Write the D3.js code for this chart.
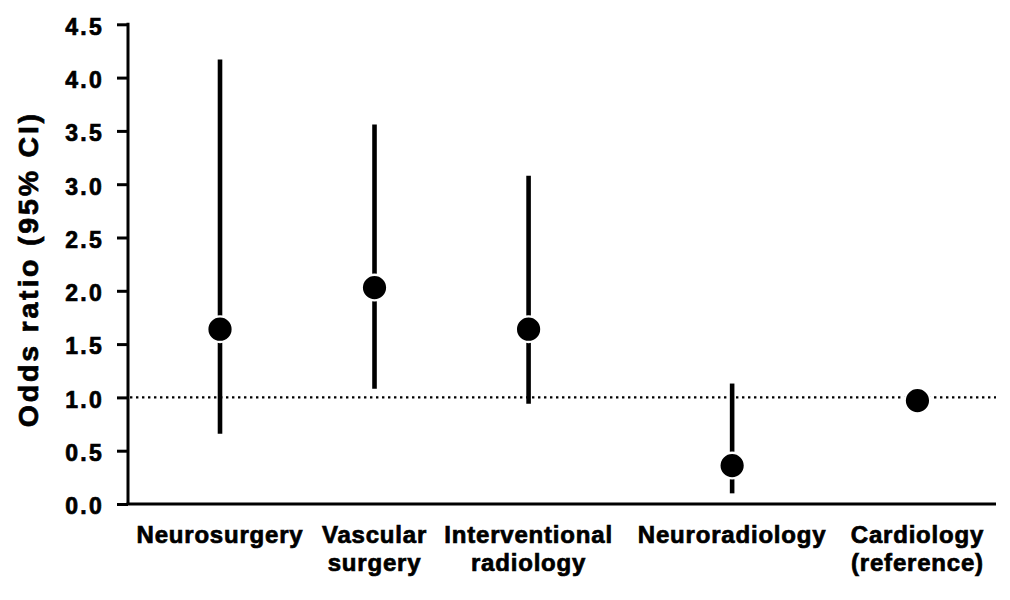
<!DOCTYPE html>
<html>
<head>
<meta charset="utf-8">
<script src="https://cdn.jsdelivr.net/npm/d3@7"></script>
<style>
  html, body { margin: 0; padding: 0; background: #fff; }
  svg { display: block; }
  text { font-family: "Liberation Sans", Arial, sans-serif; font-weight: bold; fill: #000; stroke: #000; stroke-width: 0.7px; }
</style>
</head>
<body>
<svg id="chart" width="1010" height="600"></svg>
<script>
// ---- data ----
const categories = ["Neurosurgery", "Vascular surgery", "Interventional radiology", "Neuroradiology", "Cardiology (reference)"];
const categoryLines = [["Neurosurgery"], ["Vascular", "surgery"], ["Interventional", "radiology"], ["Neuroradiology"], ["Cardiology", "(reference)"]];
const oddsRatio = [1.64, 2.03, 1.64, 0.36, 0.97];
const ciLower   = [0.66, 1.08, 0.94, 0.10, null];
const ciUpper   = [4.17, 3.56, 3.08, 1.13, null];
const yTicks    = [0, 0.5, 1.0, 1.5, 2.0, 2.5, 3.0, 3.5, 4.0, 4.5];
const referenceValue = 1.0;
const yTitle = "Odds ratio (95% CI)";

(function () {
// ---- layout ----
const svg = d3.select("#chart");
const pLeft = 128, pRight = 996, pTop = 24.3, pBottom = 504;
const plotW = pRight - pLeft;
const slotFrac = [0.106, 0.284, 0.4615, 0.696, 0.9095];

const x = d3.scaleOrdinal().domain(categories).range(slotFrac.map(f => pLeft + f * plotW));
const y = d3.scaleLinear().domain([0, 4.5]).range([pBottom, pTop]);

// reference dotted line
svg.append("line")
  .attr("x1", pLeft + 2).attr("x2", pRight)
  .attr("y1", y(referenceValue)).attr("y2", y(referenceValue))
  .attr("stroke", "#000").attr("stroke-width", 2.4)
  .attr("stroke-dasharray", "2.4,3.6");

// error bars
const rows = categories.map((c, i) => ({ c, or: oddsRatio[i], lo: ciLower[i], hi: ciUpper[i] }));
svg.append("g").selectAll("line")
  .data(rows.filter(d => d.lo != null))
  .join("line")
  .attr("x1", d => x(d.c)).attr("x2", d => x(d.c))
  .attr("y1", d => y(d.lo)).attr("y2", d => y(d.hi))
  .attr("stroke", "#000").attr("stroke-width", 4.6);

// points
svg.append("g").selectAll("circle")
  .data(rows)
  .join("circle")
  .attr("cx", d => x(d.c)).attr("cy", d => y(d.or))
  .attr("r", 12.8)
  .attr("fill", "#000")
  .attr("stroke", "#fff").attr("stroke-width", 2.4);

// y axis
const yAxis = svg.append("g")
  .attr("transform", `translate(${pLeft},0)`)
  .call(d3.axisLeft(y).tickValues(yTicks).tickFormat(d3.format(".1f")).tickSize(11).tickPadding(13));
yAxis.select(".domain").attr("stroke", "#000").attr("stroke-width", 3)
  .attr("d", `M0,${pTop - 1.5}V${pBottom}`);
yAxis.selectAll(".tick line").attr("stroke", "#000").attr("stroke-width", 3);
yAxis.selectAll(".tick text")
  .attr("font-size", 23).attr("font-family", "Liberation Sans, Arial, sans-serif")
  .attr("font-weight", "bold").attr("fill", "#000")
  .style("letter-spacing", "2.3px")
  .attr("dy", "0.43em");

// x axis line
svg.append("line")
  .attr("x1", pLeft - 1.5).attr("x2", pRight)
  .attr("y1", pBottom).attr("y2", pBottom)
  .attr("stroke", "#000").attr("stroke-width", 3);

// x labels
const xl = svg.append("g").selectAll("text")
  .data(categories)
  .join("text")
  .attr("x", d => x(d))
  .attr("y", 543)
  .attr("text-anchor", "middle")
  .attr("font-size", 24)
  .style("letter-spacing", "0.8px");
xl.each(function(d, i) {
  const t = d3.select(this);
  categoryLines[i].forEach((ln, j) => {
    t.append("tspan").attr("x", x(d)).attr("dy", j === 0 ? 0 : 27.5).text(ln);
  });
});

// y title
svg.append("text")
  .attr("transform", `translate(38,${(pTop + pBottom) / 2 + 5}) rotate(-90)`)
  .attr("text-anchor", "middle")
  .attr("font-size", 28.5)
  .style("letter-spacing", "2.8px")
  .text(yTitle);
})();
</script>
</body>
</html>
